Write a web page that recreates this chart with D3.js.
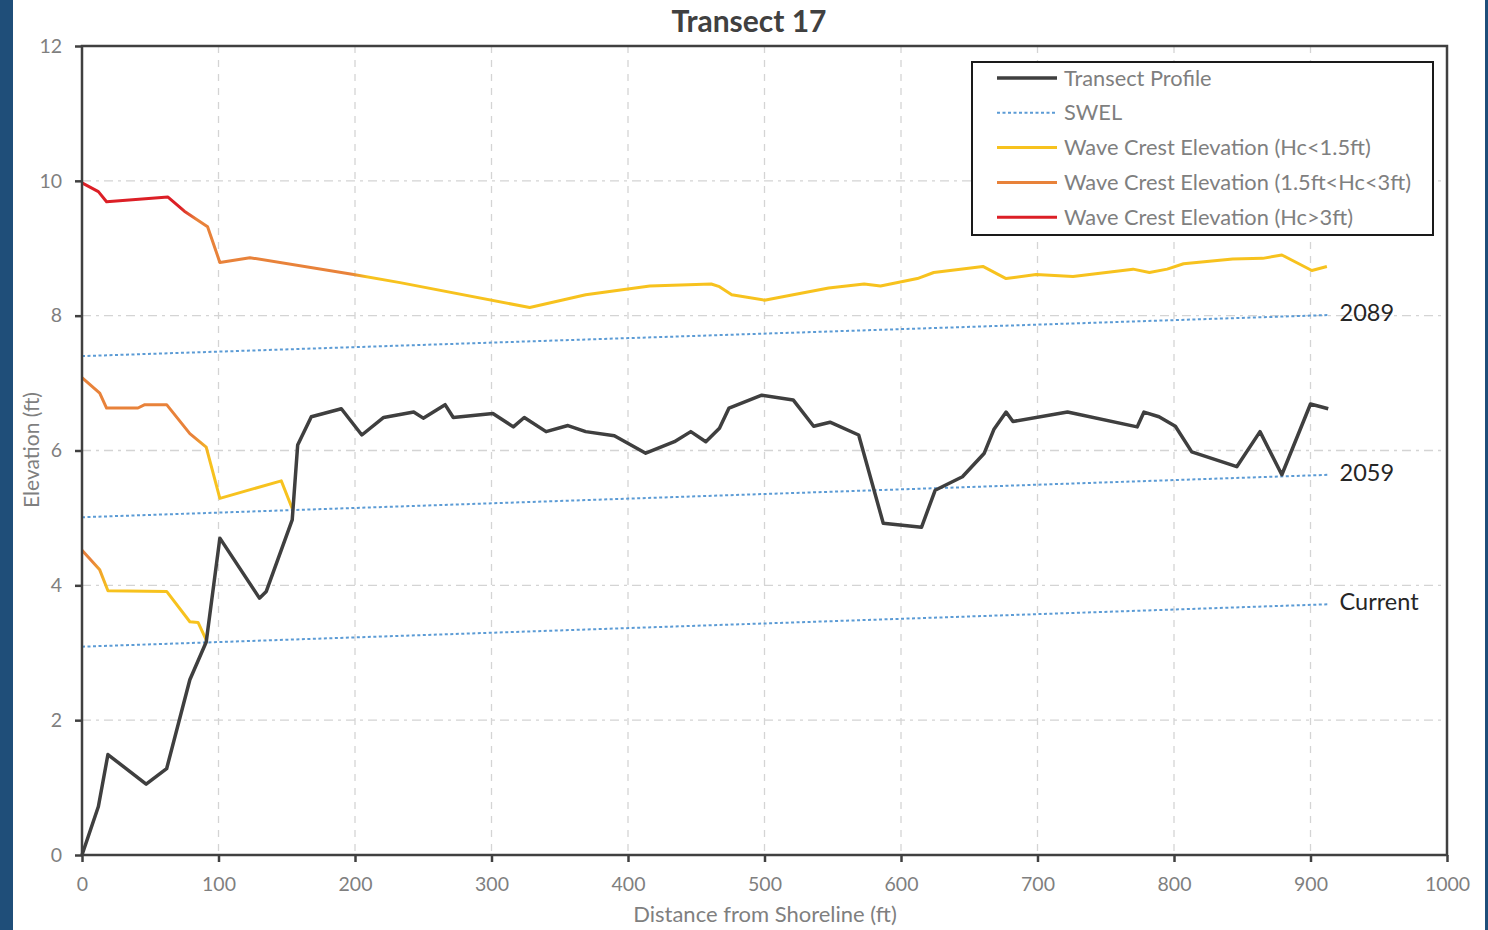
<!DOCTYPE html>
<html>
<head>
<meta charset="utf-8">
<script src="https://cdn.jsdelivr.net/npm/d3@7"></script>
<style>
  html, body { margin: 0; padding: 0; background: #fff; }
  svg { display: block; }
</style>
</head>
<body>
<svg id="chart" width="1488" height="930"></svg>
<script>
// ---- data ----
const title = "Transect 17";
const xTicks = [0, 100, 200, 300, 400, 500, 600, 700, 800, 900, 1000];
const yTicks = [0, 2, 4, 6, 8, 10, 12];

const profileDist = [0, 12, 19, 47, 62, 79, 91, 101, 130, 135, 154, 158, 168, 190, 205, 221, 243, 250, 266, 272,
  301, 316, 324, 340, 356, 369, 390, 413, 434, 446, 457, 467, 474, 498, 521, 536, 548, 569, 587, 615,
  625, 645, 661, 668, 677, 682, 722, 773, 778, 789, 801, 813, 846, 863, 879, 900, 913];
const profileElev = [0, 0.72, 1.49, 1.05, 1.28, 2.6, 3.16, 4.70, 3.81, 3.91, 4.97, 6.08, 6.50, 6.62, 6.23, 6.49, 6.57, 6.48, 6.68, 6.49,
  6.55, 6.35, 6.49, 6.28, 6.37, 6.28, 6.22, 5.96, 6.13, 6.28, 6.13, 6.33, 6.63, 6.82, 6.75, 6.36, 6.42, 6.23, 4.92, 4.86,
  5.41, 5.61, 5.96, 6.31, 6.57, 6.43, 6.57, 6.35, 6.57, 6.50, 6.36, 5.98, 5.76, 6.28, 5.64, 6.69, 6.62];

const swelDist = [0, 914];
const swelCurrent = [3.09, 3.72];
const swel2059 = [5.01, 5.64];
const swel2089 = [7.40, 8.01];
const swelNames = ["Current", "2059", "2089"];

const crest2089Dist = [0, 12, 18, 63, 75, 92, 101, 123, 199, 233, 328, 369, 416, 461, 467, 476, 500, 521, 547, 573,
  585, 612, 624, 660, 677, 699, 726, 770, 782, 795, 807, 843, 865, 879, 901, 912];
const crest2089Elev = [9.97, 9.84, 9.69, 9.76, 9.55, 9.32, 8.79, 8.86, 8.61, 8.49, 8.12, 8.31, 8.44, 8.47, 8.43, 8.31, 8.23, 8.31, 8.41, 8.47,
  8.44, 8.55, 8.64, 8.73, 8.55, 8.61, 8.58, 8.69, 8.64, 8.69, 8.77, 8.84, 8.85, 8.90, 8.67, 8.73];
const crest2089Breaks = [78, 203];

const crest2059Dist = [0, 13, 18, 41, 46, 62, 79, 91, 101, 146, 154];
const crest2059Elev = [7.08, 6.85, 6.63, 6.63, 6.68, 6.68, 6.25, 6.05, 5.29, 5.55, 5.14];
const crest2059Breaks = [88];

const crestCurrentDist = [0, 13, 19, 62, 79, 85, 91];
const crestCurrentElev = [4.52, 4.23, 3.92, 3.91, 3.46, 3.45, 3.19];
const crestCurrentBreaks = [13];

const legendLabels = ["Transect Profile", "SWEL", "Wave Crest Elevation (Hc<1.5ft)",
  "Wave Crest Elevation (1.5ft<Hc<3ft)", "Wave Crest Elevation (Hc>3ft)"];

// ---- styles ----
const colProfile = "#3f3f3f";
const colSwel = "#5b9bd5";
const colYellow = "#f7c21e";
const colOrange = "#e8823a";
const colRed = "#dc1f26";
const font = "Lato, 'Open Sans', sans-serif";

const svg = d3.select("#chart");
const W = 1488, H = 930;
const margin = { top: 46, right: 41, bottom: 75, left: 82 };
const width = W - margin.left - margin.right;
const height = H - margin.top - margin.bottom;

// blue side strips
svg.append("rect").attr("x", 0).attr("y", 0).attr("width", 13).attr("height", H).attr("fill", "#1f4e79");
svg.append("rect").attr("x", 1485).attr("y", 0).attr("width", 3).attr("height", H).attr("fill", "#1f4e79");

const x = d3.scaleLinear().domain([0, 1000]).range([0, width]);
const y = d3.scaleLinear().domain([0, 12]).range([height, 0]);

const g = svg.append("g").attr("transform", "translate(" + margin.left + "," + margin.top + ")");

// grid
g.append("g").selectAll("line")
  .data(xTicks.slice(1, -1))
  .enter().append("line")
  .attr("x1", d => x(d)).attr("x2", d => x(d))
  .attr("y1", 0).attr("y2", height)
  .attr("stroke", "#d4d4d4").attr("stroke-width", 1.3)
  .attr("stroke-dasharray", "7 7");

g.append("g").selectAll("line")
  .data(yTicks.slice(1, -1))
  .enter().append("line")
  .attr("x1", 0).attr("x2", width)
  .attr("y1", d => y(d)).attr("y2", d => y(d))
  .attr("stroke", "#d4d4d4").attr("stroke-width", 1.3)
  .attr("stroke-dasharray", "9 5 3 5");

const line = d3.line().x(d => x(d[0])).y(d => y(d[1]));
const zip = (a, b) => a.map((d, i) => [d, b[i]]);

// SWEL lines
[swelCurrent, swel2059, swel2089].forEach((s, i) => {
  g.append("path")
    .datum(zip(swelDist, s))
    .attr("d", line)
    .attr("fill", "none")
    .attr("stroke", colSwel)
    .attr("stroke-width", 2)
    .attr("stroke-dasharray", "3 2.5");
  g.append("text")
    .attr("x", x(swelDist[1]) + 10)
    .attr("y", y(s[1]) - 2)
    .attr("dy", "0.35em")
    .attr("font-family", font)
    .attr("font-size", 23.5)
    .attr("fill", "#262626")
    .text(swelNames[i]);
});

// wave crest lines with a short colour blend at each break
const defs = svg.append("defs");
function crest(id, dist, elev, breaks, colors) {
  const x0 = x(dist[0]), x1 = x(dist[dist.length - 1]);
  const grad = defs.append("linearGradient")
    .attr("id", id)
    .attr("gradientUnits", "userSpaceOnUse")
    .attr("x1", x0).attr("x2", x1).attr("y1", 0).attr("y2", 0);
  const off = v => Math.max(0, Math.min(1, (x(v) - x0) / (x1 - x0)));
  grad.append("stop").attr("offset", 0).attr("stop-color", colors[0]);
  breaks.forEach((b, i) => {
    grad.append("stop").attr("offset", off(b - 6)).attr("stop-color", colors[i]);
    grad.append("stop").attr("offset", off(b + 6)).attr("stop-color", colors[i + 1]);
  });
  grad.append("stop").attr("offset", 1).attr("stop-color", colors[colors.length - 1]);

  g.append("path")
    .datum(zip(dist, elev))
    .attr("d", line)
    .attr("fill", "none")
    .attr("stroke", "url(#" + id + ")")
    .attr("stroke-width", 3)
    .attr("stroke-linejoin", "round");
}
crest("crest2089", crest2089Dist, crest2089Elev, crest2089Breaks, [colRed, colOrange, colYellow]);
crest("crest2059", crest2059Dist, crest2059Elev, crest2059Breaks, [colOrange, colYellow]);
crest("crestCur", crestCurrentDist, crestCurrentElev, crestCurrentBreaks, [colOrange, colYellow]);

// transect profile
g.append("path")
  .datum(zip(profileDist, profileElev))
  .attr("d", line)
  .attr("fill", "none")
  .attr("stroke", colProfile)
  .attr("stroke-width", 3.5)
  .attr("stroke-linejoin", "round");

// frame
g.append("rect")
  .attr("x", 0).attr("y", 0).attr("width", width).attr("height", height)
  .attr("fill", "none").attr("stroke", "#404040").attr("stroke-width", 2.5);

// axes
const xAxis = g.append("g")
  .attr("transform", "translate(0," + height + ")")
  .call(d3.axisBottom(x).tickValues(xTicks).tickFormat(d3.format("d")).tickSize(7).tickPadding(15));
const yAxis = g.append("g")
  .call(d3.axisLeft(y).tickValues(yTicks).tickFormat(d3.format("d")).tickSize(7).tickPadding(13));
[xAxis, yAxis].forEach(a => {
  a.select(".domain").remove();
  a.selectAll(".tick line").attr("stroke", "#404040").attr("stroke-width", 2.5);
  a.selectAll(".tick text").attr("fill", "#7f7f7f").attr("font-family", font).attr("font-size", 19.5);
});

// titles
svg.append("text")
  .attr("x", 749).attr("y", 32)
  .attr("text-anchor", "middle")
  .attr("font-family", font).attr("font-weight", "bold").attr("font-size", 30)
  .attr("fill", "#404040")
  .text(title);

svg.append("text")
  .attr("x", 765).attr("y", 922)
  .attr("text-anchor", "middle")
  .attr("font-family", font).attr("font-size", 22)
  .attr("fill", "#7f7f7f")
  .text("Distance from Shoreline (ft)");

svg.append("text")
  .attr("transform", "translate(39,450) rotate(-90)")
  .attr("text-anchor", "middle")
  .attr("font-family", font).attr("font-size", 21)
  .attr("fill", "#7f7f7f")
  .text("Elevation (ft)");

// legend
const lg = svg.append("g").attr("transform", "translate(972,62)");
lg.append("rect")
  .attr("width", 461).attr("height", 173)
  .attr("fill", "#fff").attr("stroke", "#1a1a1a").attr("stroke-width", 2);
const legendStyles = [
  { color: colProfile, dash: null, w: 3.5 },
  { color: colSwel, dash: "3 2.5", w: 2 },
  { color: colYellow, dash: null, w: 3 },
  { color: colOrange, dash: null, w: 3 },
  { color: colRed, dash: null, w: 3 }
];
legendLabels.forEach((lab, i) => {
  const row = lg.append("g").attr("transform", "translate(0," + (16 + i * 34.8) + ")");
  row.append("line")
    .attr("x1", 25).attr("x2", 85)
    .attr("stroke", legendStyles[i].color)
    .attr("stroke-width", legendStyles[i].w)
    .attr("stroke-dasharray", legendStyles[i].dash);
  row.append("text")
    .attr("x", 92).attr("dy", "0.35em")
    .attr("font-family", font).attr("font-size", 21.8)
    .attr("fill", "#7f7f7f")
    .text(lab);
});
</script>
</body>
</html>
